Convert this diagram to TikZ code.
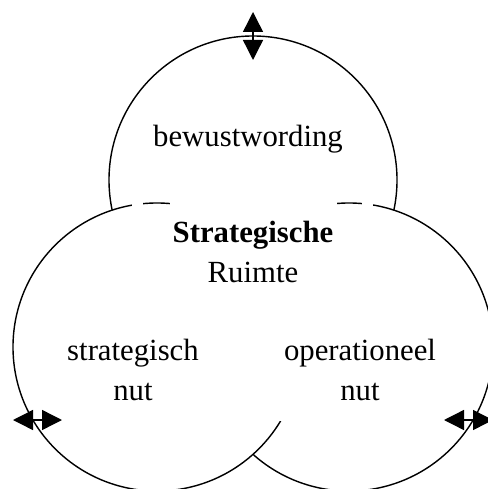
\documentclass[tikz,border=0pt]{standalone}
\usepackage{fontspec}
\setmainfont{Liberation Serif}
\usetikzlibrary{arrows.meta}

\begin{document}
\begin{tikzpicture}[x=0.2mm, y=-0.2mm, >={Triangle[length=4mm, width=4mm]}]

		\tikzstyle{ring}=[draw, circle, fill=white, line width=0.8pt,
		minimum size=57.6mm, inner sep=0pt]
		\tikzstyle{txt}=[font=\fontsize{17.5}{22.2}\selectfont, align=center,
		anchor=base, inner sep=0pt]

		\useasboundingbox (0,0) rectangle (487,489);

		% Three circles (top first, left one last)
		\node[ring] (C1) at (253,180) {};
		\node[ring] (C3) at (349,347) {};
		\node[ring] (C2) at (157,347) {};

		% White areas behind the texts
		\fill[white] (170,195) rectangle (337,330);
		\fill[white] (270,330) rectangle (450,421);
		\fill[white] (132,196) rectangle (143,212);
		\fill[white] (362,196) rectangle (373,212);

		% Texts (placed at the baseline of their last line)
		\node[txt] (T1) at (248,147) {bewustwording};
		\node[txt] (T2) at (253,282) {\textbf{Strategische}\\Ruimte};
		\node[txt] (T3) at (133,400) {strategisch\\nut};
		\node[txt] (T4) at (360,400) {operationeel\\nut};

		% Arrows on the rims
		\coordinate (A1) at (253,12);
		\coordinate (A2) at (253,60);
		\coordinate (B1) at (13,420);
		\coordinate (B2) at (62,420);
		\coordinate (D1) at (444,420);
		\coordinate (D2) at (493,420);
		\draw[<->, line width=0.8pt] (A1) -- (A2);
		\draw[<->, line width=0.8pt] (B1) -- (B2);
		\draw[<->, line width=0.8pt] (D1) -- (D2);

		\end{tikzpicture}
\end{document}
